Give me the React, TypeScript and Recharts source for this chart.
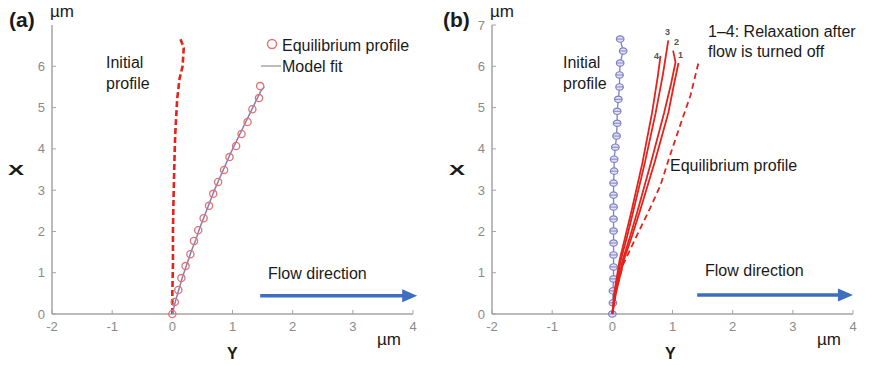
import React from "react";
import { ReferenceLine, Scatter, ScatterChart, XAxis, YAxis } from "recharts";

type Pt = [number, number];

const X_TICKS = [-2, -1, 0, 1, 2, 3, 4];
const Y_TICKS_A = [0, 1, 2, 3, 4, 5, 6];
const Y_TICKS_B = [0, 1, 2, 3, 4, 5, 6, 7];

// panel (a)
const aInitial: Pt[] = [
  [0, 0], [0, 0.5], [0.01, 1.2], [0.01, 2], [0.02, 2.8], [0.03, 3.4],
  [0.04, 4], [0.05, 4.4], [0.08, 5.2], [0.12, 5.7], [0.17, 6.0],
  [0.19, 6.45], [0.13, 6.68],
];
const aEquilibrium: Pt[] = [
  [0, 0], [0.04, 0.29], [0.1, 0.58], [0.15, 0.87], [0.22, 1.16],
  [0.3, 1.45], [0.36, 1.77], [0.43, 2.03], [0.52, 2.32], [0.61, 2.62],
  [0.68, 2.91], [0.76, 3.2], [0.86, 3.49], [0.95, 3.8], [1.06, 4.07],
  [1.15, 4.36], [1.25, 4.65], [1.33, 4.96], [1.44, 5.23], [1.46, 5.52],
];
const aModel: Pt[] = [
  [0, 0], [0.05, 0.3], [0.11, 0.6], [0.17, 0.9], [0.24, 1.2], [0.31, 1.5],
  [0.39, 1.8], [0.46, 2.1], [0.54, 2.4], [0.62, 2.7], [0.7, 3.0],
  [0.79, 3.3], [0.88, 3.6], [0.97, 3.9], [1.07, 4.2], [1.17, 4.5],
  [1.27, 4.8], [1.37, 5.1], [1.47, 5.4], [1.53, 5.5],
];

// panel (b)
const bInitial: Pt[] = [
  [0, 0], [0.01, 0.27], [0.01, 0.56], [0.02, 0.85], [0.02, 1.14],
  [0.02, 1.43], [0.02, 1.72], [0.02, 2.01], [0.02, 2.3], [0.02, 2.59],
  [0.02, 2.88], [0.02, 3.17], [0.03, 3.46], [0.03, 3.75], [0.05, 4.04],
  [0.07, 4.31], [0.08, 4.62], [0.08, 4.91], [0.1, 5.2], [0.12, 5.5],
  [0.12, 5.79], [0.13, 6.08], [0.18, 6.37], [0.13, 6.66],
];
const bCurve1: Pt[] = [
  [0, 0], [0.06, 0.5], [0.19, 1.3], [0.33, 1.9], [0.46, 2.5], [0.7, 3.66],
  [0.93, 4.87], [1.03, 5.6], [1.1, 6.08],
];
const bCurve2: Pt[] = [
  [0, 0], [0.05, 0.5], [0.17, 1.3], [0.3, 1.9], [0.42, 2.5], [0.64, 3.66],
  [0.86, 4.87], [0.98, 5.6], [1.05, 6.1], [1.01, 6.38],
];
const bCurve3: Pt[] = [
  [0, 0], [0.04, 0.5], [0.14, 1.3], [0.25, 1.9], [0.35, 2.5], [0.54, 3.66],
  [0.72, 4.87], [0.84, 5.8], [0.93, 6.63],
];
const bCurve4: Pt[] = [
  [0, 0], [0.03, 0.5], [0.12, 1.3], [0.22, 1.9], [0.32, 2.5], [0.5, 3.66],
  [0.66, 4.87], [0.76, 5.8], [0.8, 6.25],
];
const bEquilibrium: Pt[] = [
  [0, 0], [0.05, 0.5], [0.18, 1.2], [0.41, 1.91], [0.63, 2.57],
  [0.8, 3.12], [0.96, 3.85], [1.13, 4.58], [1.3, 5.3], [1.43, 6.08],
];

const toRows = (pts: Pt[]) => pts.map(([x, y]) => ({ x, y }));

const FONT = "'Liberation Sans', Arial, sans-serif";
const RED = "#e3231c";
const BLUE = "#3d6ebf";
const AXIS = "#a5a5a5";

const tickStyle = { fontSize: 13, fill: "#8a8a8a", fontFamily: FONT };

const noDot = () => <g />;

const Arrow = (p: any) => (
  <g>
    <line x1={p.x1} y1={p.y1} x2={p.x2} y2={p.y2} stroke={BLUE} strokeWidth={3.5} />
    <polygon
      points={`${p.x2 - 3},${p.y2 - 6.5} ${p.x2 + 12},${p.y2} ${p.x2 - 3},${p.y2 + 6.5}`}
      fill={BLUE}
    />
  </g>
);

function Axes({ yTicks }: { yTicks: number[] }) {
  return (
    <>
      <XAxis
        type="number"
        dataKey="x"
        domain={[-2, 4]}
        ticks={X_TICKS}
        height={30}
        tickSize={-4}
        tickMargin={12}
        axisLine={{ stroke: AXIS, strokeWidth: 1.5 }}
        tickLine={{ stroke: AXIS }}
        tick={tickStyle}
      />
      <YAxis
        type="number"
        dataKey="y"
        domain={[0, 7]}
        ticks={yTicks}
        width={30}
        tickSize={-4}
        tickMargin={11}
        axisLine={{ stroke: AXIS, strokeWidth: 1.5 }}
        tickLine={{ stroke: AXIS }}
        tick={tickStyle}
      />
    </>
  );
}

const txt = (
  left: number,
  top: number,
  s: string,
  extra: React.CSSProperties = {}
) => (
  <div
    style={{
      position: "absolute",
      left,
      top,
      fontFamily: FONT,
      fontSize: 16,
      lineHeight: 1,
      color: "#1a1a1a",
      whiteSpace: "nowrap",
      ...extra,
    }}
  >
    {s}
  </div>
);

const axisName: React.CSSProperties = {
  fontSize: 16,
  fontWeight: 700,
  transformOrigin: "0 0",
};

export default function App() {
  return (
    <div style={{ position: "relative", width: 883, height: 365, background: "#fff" }}>
      <style>{`body { margin: 0; }`}</style>

      <div style={{ position: "absolute", left: 0, top: 0 }}>
        <ScatterChart
          width={440}
          height={365}
          margin={{ top: 25, right: 27, left: 22, bottom: 21 }}
        >
          <Axes yTicks={Y_TICKS_A} />
          <Scatter
            data={toRows(aInitial)}
            line={{ stroke: RED, strokeWidth: 2.6, strokeDasharray: "6 3" }}
            shape={noDot}
            isAnimationActive={false}
          />
          <Scatter
            data={toRows(aModel)}
            line={{ stroke: "#7f80b8", strokeWidth: 1.5 }}
            shape={noDot}
            isAnimationActive={false}
          />
          <Scatter
            data={toRows(aEquilibrium)}
            shape={(p: any) => (
              <circle cx={p.cx} cy={p.cy} r={3.6} fill="none" stroke="#e57171" strokeWidth={1.3} />
            )}
            isAnimationActive={false}
          />
          <ReferenceLine
            segment={[{ x: 1.46, y: 0.44 }, { x: 3.87, y: 0.44 }]}
            ifOverflow="visible"
            shape={Arrow}
          />
        </ScatterChart>
      </div>

      <div style={{ position: "absolute", left: 440, top: 0 }}>
        <ScatterChart
          width={443}
          height={365}
          margin={{ top: 25, right: 30, left: 22, bottom: 21 }}
        >
          <Axes yTicks={Y_TICKS_B} />
          <Scatter
            data={toRows(bInitial)}
            line={{ stroke: "#7f80c4", strokeWidth: 1.3 }}
            shape={(p: any) => (
              <g>
                <ellipse cx={p.cx} cy={p.cy} rx={3.8} ry={3.2} fill="#e2e2f4" stroke="#7f80c4" strokeWidth={1.2} />
                <line x1={p.cx - 3.5} y1={p.cy} x2={p.cx + 3.5} y2={p.cy} stroke="#7f80c4" strokeWidth={1} />
              </g>
            )}
            isAnimationActive={false}
          />
          {[bCurve1, bCurve2, bCurve3, bCurve4].map((c, i) => (
            <Scatter
              key={i}
              data={toRows(c)}
              line={{ stroke: RED, strokeWidth: 1.8 }}
              lineType="joint"
              shape={noDot}
              isAnimationActive={false}
            />
          ))}
          <Scatter
            data={toRows(bEquilibrium)}
            line={{ stroke: RED, strokeWidth: 1.8, strokeDasharray: "6 4" }}
            shape={noDot}
            isAnimationActive={false}
          />
          <ReferenceLine
            segment={[{ x: 1.41, y: 0.46 }, { x: 3.8, y: 0.46 }]}
            ifOverflow="visible"
            shape={Arrow}
          />
        </ScatterChart>
      </div>

      {/* panel (a) text */}
      {txt(9, 9, "(a)", { fontSize: 21, fontWeight: 700 })}
      {txt(50, 3, "\u00b5m", { fontSize: 17 })}
      {txt(8, 163, "X", { ...axisName, transform: "scale(1.5, 0.9)" })}
      {txt(227, 346, "Y", axisName)}
      {txt(377, 331, "\u00b5m", { fontSize: 17 })}
      {txt(106, 55, "Initial")}
      {txt(106, 76, "profile")}
      {txt(268, 266, "Flow direction")}
      <svg style={{ position: "absolute", left: 258, top: 36 }} width={26} height={40}>
        <circle cx={14} cy={8} r={4.5} fill="none" stroke="#e57171" strokeWidth={1.4} />
        <line x1={3} y1={30} x2={23} y2={30} stroke="#9a9a9a" strokeWidth={1.3} />
      </svg>
      {txt(282, 38, "Equilibrium profile")}
      {txt(282, 59, "Model fit")}

      {/* panel (b) text */}
      {txt(443, 9, "(b)", { fontSize: 21, fontWeight: 700 })}
      {txt(490, 3, "\u00b5m", { fontSize: 17 })}
      {txt(449, 163, "X", { ...axisName, transform: "scale(1.5, 0.9)" })}
      {txt(665, 346, "Y", axisName)}
      {txt(817, 331, "\u00b5m", { fontSize: 17 })}
      {txt(563, 55, "Initial")}
      {txt(563, 76, "profile")}
      {txt(708, 24, "1\u20134: Relaxation after")}
      {txt(708, 44, "flow is turned off")}
      {txt(670, 158, "Equilibrium profile")}
      {txt(705, 263, "Flow direction")}
      {txt(665, 28, "3", { fontSize: 9, fontWeight: 700, color: "#555" })}
      {txt(674, 38, "2", { fontSize: 9, fontWeight: 700, color: "#555" })}
      {txt(678, 51, "1", { fontSize: 9, fontWeight: 700, color: "#555" })}
      {txt(654, 52, "4", { fontSize: 9, fontWeight: 700, color: "#555" })}
    </div>
  );
}
